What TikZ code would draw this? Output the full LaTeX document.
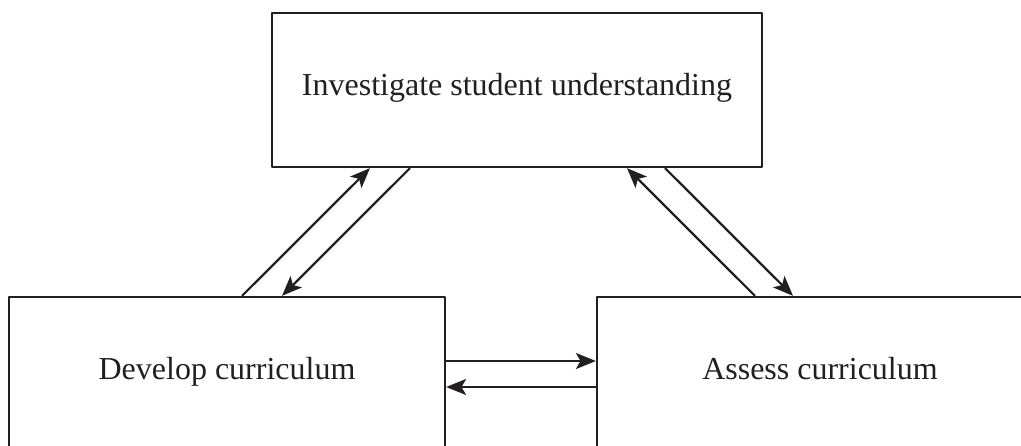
\documentclass[tikz,border=0pt]{standalone}
\usepackage{fontspec}
\setmainfont{Liberation Serif}
\usetikzlibrary{arrows.meta,calc}
\definecolor{ink}{HTML}{231F20}

\begin{document}
\begin{tikzpicture}[x=.75pt, y=-.75pt, font=\fontsize{24}{28}\selectfont, line join=round,
	>={Stealth[length=15pt,width=12pt,inset=3.5pt]}, color=ink,
	box/.style={draw, line width=1.7pt, inner sep=0pt, minimum height=115.5pt, text height=.9em, text depth=.03em},
	link/.style={->, line width=1.7pt}]
	\useasboundingbox (0,0) rectangle (1021,446);
	\clip (0,0) rectangle (1021,446);
	\node[box, minimum width=367.5pt] (inv) at (517,90) {Investigate student understanding};
	\node[box, minimum width=327pt] (dev) at (227,374) {Develop curriculum};
	\node[box, minimum width=334.5pt] (ass) at (820,374) {Assess curriculum};
	% left pair
	\draw[link] ($(dev.north)+(15,0)$) -- ($(inv.south)+(-147,0)$);
	\draw[link] ($(inv.south)+(-107,0)$) -- ($(dev.north)+(55,0)$);
	% right pair
	\draw[link] ($(ass.north)+(-65,0)$) -- ($(inv.south)+(110,0)$);
	\draw[link] ($(inv.south)+(148,0)$) -- ($(ass.north)+(-27,0)$);
	% bottom pair
	\draw[link] ($(dev.east)+(0,-13)$) -- ($(ass.west)+(0,-13)$);
	\draw[link] ($(ass.west)+(0,13)$) -- ($(dev.east)+(0,13)$);
\end{tikzpicture}
\end{document}
